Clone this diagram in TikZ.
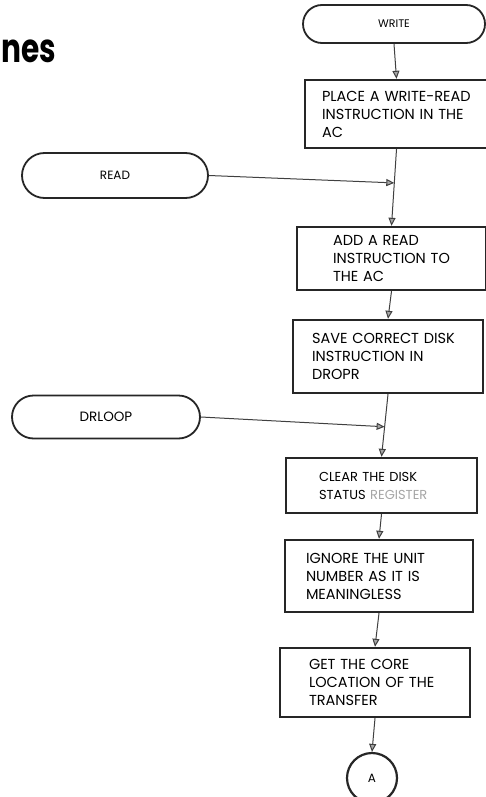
\documentclass[tikz,border=0pt]{standalone}
\usepackage{fontspec}
\setmainfont{Poppins}
\usetikzlibrary{arrows.meta,calc,shapes.misc}
\begin{document}
\begin{tikzpicture}[x=1pt,y=-1pt,
  txt/.style={font=\fontsize{14.5}{18}\selectfont, text=black},
  term/.style={draw=black!85, line width=1.8pt, rounded rectangle, inner sep=0pt,
    font=\fontsize{12}{14}\selectfont},
  proc/.style 2 args={draw=black!85, line width=2.4pt, rectangle, align=left,
    inner ysep=0pt, text width=#1pt, inner xsep=#2pt, txt},
  flow/.style={draw=black!75, line width=1pt,
    -{Triangle[length=8pt,width=7pt,fill=black!35]}},
  conn/.style={circle, draw=black!85, line width=2.2pt, minimum size=50pt,
    inner sep=0pt, font=\fontsize{12}{14}\selectfont}]
  \path[use as bounding box] (0,0) rectangle (486,797);
  \clip (0,0) rectangle (486,797);
  \fill[white] (0,0) rectangle (486,797);

  % heading fragment
  \node[font=\fontsize{40}{40}\selectfont\bfseries, anchor=base west, inner sep=0pt]
    (title) at (1,63) {\scalebox{0.74}[1]{nes}};

  % terminals
  \node[term, minimum width=182pt, minimum height=38pt,
    font=\fontsize{11}{13}\selectfont] (write) at (394,24) {WRITE};
  \node[term, minimum width=186pt, minimum height=45pt] (read) at (115,175.5) {READ};
  \node[term, minimum width=188pt, minimum height=43pt,
    font=\fontsize{13.5}{15}\selectfont] (drloop) at (106,417) {DRLOOP};

  % process boxes
  \node[proc={149}{17}, minimum height=68pt] (b1) at (396.5,114)
    {\mbox{PLACE A WRITE-READ}\\\mbox{INSTRUCTION IN THE}\\AC};
  \node[proc={117}{36}, minimum height=63pt] (b2) at (391.5,258.5)
    {ADD A READ\\\mbox{INSTRUCTION TO}\\THE AC};
  \node[proc={152}{19}, minimum height=73pt] (b3) at (388,356.5)
    {\mbox{SAVE CORRECT DISK}\\INSTRUCTION IN\\DROPR};
  \node[proc={125}{33}, minimum height=55pt, font=\fontsize{13}{18}\selectfont]
    (b4) at (381.5,485.5)
    {CLEAR THE DISK\\\mbox{STATUS {\color{black!35}REGISTER}}};
  \node[proc={146}{21}, minimum height=72pt] (b5) at (379,576)
    {IGNORE THE UNIT\\NUMBER AS IT IS\\MEANINGLESS};
  \node[proc={132}{29}, minimum height=69pt] (b6) at (375,682.5)
    {GET THE CORE\\\mbox{LOCATION OF THE}\\TRANSFER};

  % off-page connector
  \node[conn] (a) at (372,778) {A};

  % junctions where side entries join the main line
  \coordinate (j1) at ($(b1.south)!0.44!(b2.north)$);
  \coordinate (j2) at ($(b3.south)!0.52!(b4.north)$);

  % flow lines
  \draw[flow] (write.south) -- (b1.north);
  \draw[flow] (b1.south) -- (b2.north);
  \draw[flow] (read.east) -- (j1);
  \draw[flow] (b2.south) -- (b3.north);
  \draw[flow] (b3.south) -- (b4.north);
  \draw[flow] (drloop.east) -- (j2);
  \draw[flow] (b4.south) -- (b5.north);
  \draw[flow] (b5.south) -- (b6.north);
  \draw[flow] (b6.south) -- (a.north);
\end{tikzpicture}
\end{document}
